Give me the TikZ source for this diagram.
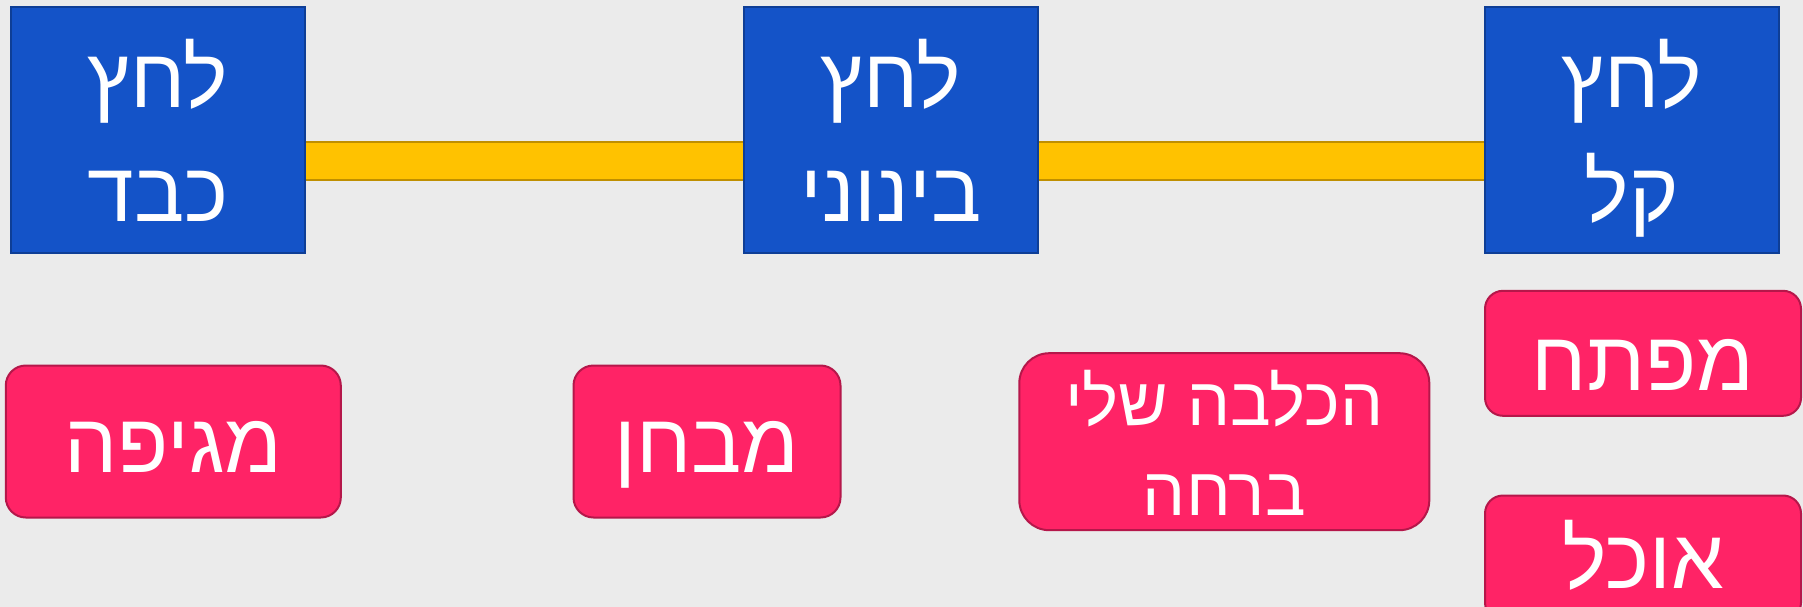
\documentclass[tikz,border=0pt]{standalone}
\usepackage{fontspec}
\usetikzlibrary{backgrounds}
\newfontfamily\hebfont[Script=Hebrew]{Liberation Sans}
\TeXXeTstate=1
\definecolor{bg}{HTML}{EBEBEB}
\definecolor{bluefill}{HTML}{1453C8}
\definecolor{blueline}{HTML}{0E3E96}
\definecolor{pinkfill}{HTML}{FF2366}
\definecolor{pinkline}{HTML}{B5174A}
\definecolor{yfill}{HTML}{FFC200}
\definecolor{yline}{HTML}{BF8F00}
\begin{document}
\begin{tikzpicture}[x=1pt,y=-1pt,
  bluebox/.style={draw=blueline, line width=2pt, fill=bluefill, minimum width=294pt, minimum height=245pt, inner sep=0pt, outer sep=0pt},
  pinkbox/.style={draw=pinkline, line width=2pt, fill=pinkfill, inner sep=0pt, outer sep=0pt},
  bar/.style={draw=yline, line width=2.5pt, fill=yfill},
  big/.style={text=white, font=\hebfont\fontsize{84pt}{100pt}\selectfont, anchor=base, inner sep=0pt},
  mid/.style={text=white, font=\hebfont\fontsize{68pt}{82pt}\selectfont, anchor=base, inner sep=0pt}]
\useasboundingbox (0,0) rectangle (1803,607);
\clip (0,0) rectangle (1803,607);
% blue boxes
\node[bluebox] (b1) at (158,130) {};
\node[bluebox] (b2) at (891,130) {};
\node[bluebox] (b3) at (1632,130) {};
% background and yellow bars behind the boxes
\begin{scope}[on background layer]
\fill[bg] (0,0) rectangle (1803,607);
\draw[bar] (b1.east |- 0,142) rectangle (b2.west |- 0,180);
\draw[bar] (b2.east |- 0,142) rectangle (b3.west |- 0,180);
\end{scope}
\node[big] (t1a) at (158,108) {\beginR לחץ\endR};
\node[big] (t1b) at (158,221) {\beginR כבד\endR};
\node[big] (t2a) at (891,108) {\beginR לחץ\endR};
\node[big] (t2b) at (891,221) {\beginR בינוני\endR};
\node[big] (t3a) at (1632,108) {\beginR לחץ\endR};
\node[big] (t3b) at (1632,221) {\beginR קל\endR};
% pink boxes
\node[pinkbox, rounded corners=20pt, minimum width=335pt, minimum height=152pt] (p1) at (173.3,441.5) {};
\node[pinkbox, rounded corners=20pt, minimum width=267pt, minimum height=152pt] (p2) at (707,441.5) {};
\node[pinkbox, rounded corners=30pt, minimum width=410pt, minimum height=177pt] (p3) at (1224.3,441.7) {};
\node[pinkbox, rounded corners=18pt, minimum width=316pt, minimum height=125pt] (p4) at (1643,353.3) {};
\node[pinkbox, rounded corners=18pt, minimum width=316pt, minimum height=125pt] (p5) at (1643,558) {};
\node[big] (tp1) at (173.3,472.6) {\beginR מגיפה\endR};
\node[big] (tp2) at (707,472.6) {\beginR מבחן\endR};
\node[mid] (tp3a) at (1224.3,425) {\beginR הכלבה שלי\endR};
\node[mid] (tp3b) at (1224.3,515) {\beginR ברחה\endR};
\node[big] (tp4) at (1643,390) {\beginR מפתח\endR};
\node[big] (tp5) at (1643,588) {\beginR אוכל\endR};
\end{tikzpicture}
\end{document}
